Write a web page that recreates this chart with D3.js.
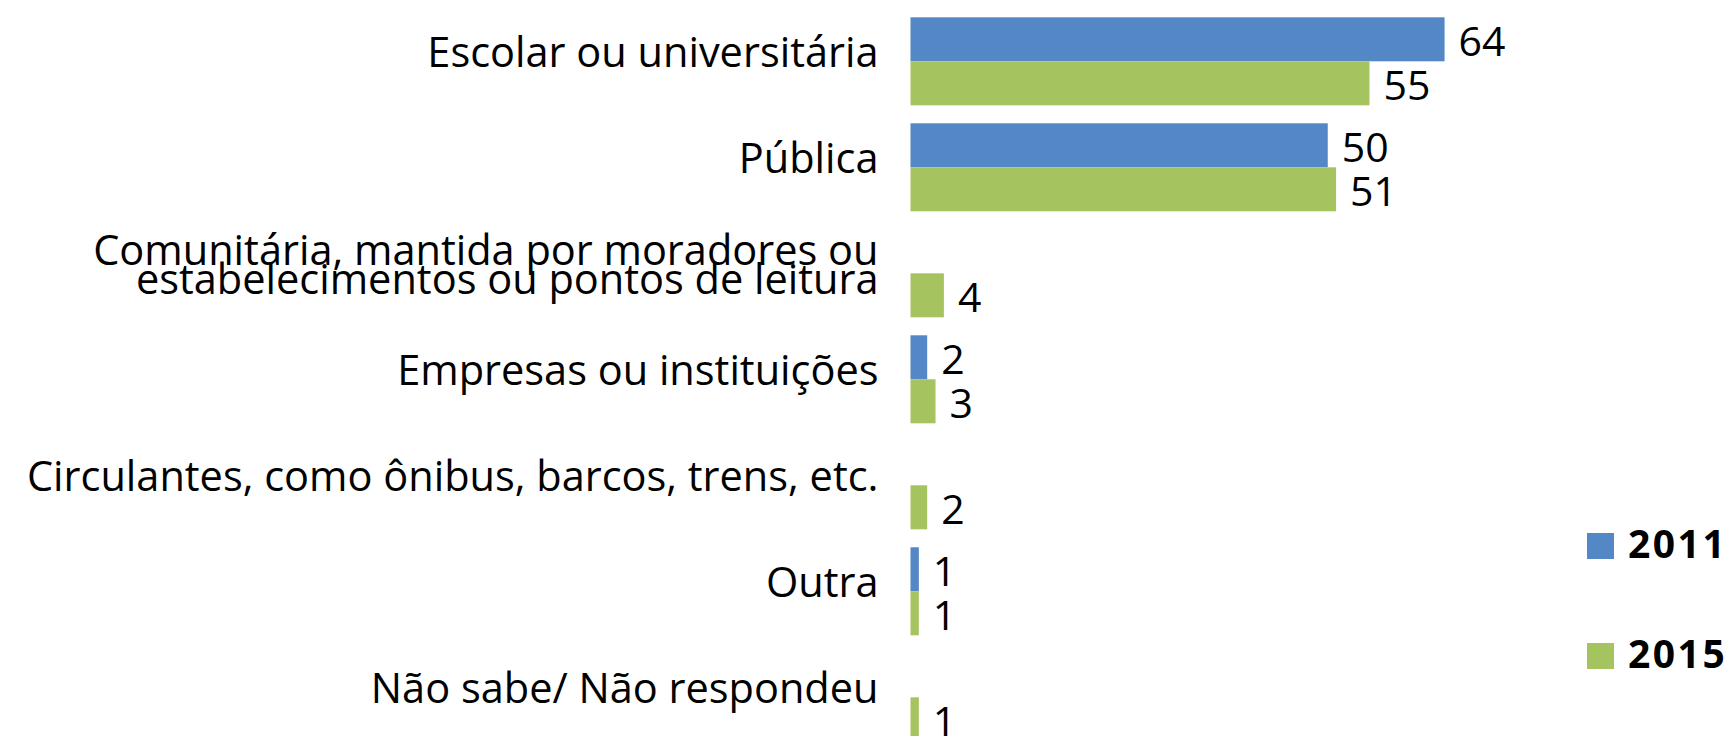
<!DOCTYPE html>
<html>
<head>
<meta charset="utf-8">
<script src="https://cdn.jsdelivr.net/npm/d3@7"></script>
<style>
    html, body { margin: 0; padding: 0; background: #fff; overflow: hidden; }
    svg { display: block; font-family: "Open Sans", Lato, sans-serif; }
</style>
</head>
<body>
<svg id="bar-chart" width="1729" height="736"></svg>
<script>
const categories = [
    "Escolar ou universitária",
    "Pública",
    "Comunitária, mantida por moradores ou\nestabelecimentos ou pontos de leitura",
    "Empresas ou instituições",
    "Circulantes, como ônibus, barcos, trens, etc.",
    "Outra",
    "Não sabe/ Não respondeu",
];
const seriesNames = ["2011", "2015"];
const values2011 = [64, 50, null, 2, null, 1, null];
const values2015 = [55, 51, 4, 3, 2, 1, 1];
const colors = ["#5387c6", "#a5c35f"];

function makeBarChart() {
    const svg = d3.select("#bar-chart");

    const xScale = d3.scaleLinear().domain([0, 100]).range([910.5, 1745]);

    const yScale = d3
        .scaleBand()
        .domain(categories)
        .range([8.3, 8.3 + 7 * 106])
        .paddingInner(18 / 106)
        .paddingOuter(9 / 106);

    const subScale = d3
        .scaleBand()
        .domain(seriesNames)
        .range([0, yScale.bandwidth()]);

    const rows = categories.map((c, i) => ({
        category: c,
        bars: [
            { series: "2011", value: values2011[i] },
            { series: "2015", value: values2015[i] },
        ].filter((b) => b.value != null),
    }));

    const color = d3.scaleOrdinal().domain(seriesNames).range(colors);

    const group = svg
        .selectAll(".row")
        .data(rows)
        .enter()
        .append("g")
        .attr("class", "row")
        .attr("transform", (d) => `translate(0, ${yScale(d.category)})`);

    // bars
    group
        .selectAll("rect")
        .data((d) => d.bars)
        .enter()
        .append("rect")
        .attr("x", xScale(0))
        .attr("y", (b) => subScale(b.series))
        .attr("width", (b) => xScale(b.value) - xScale(0))
        .attr("height", subScale.bandwidth())
        .attr("fill", (b) => color(b.series));

    // value labels
    group
        .selectAll(".value")
        .data((d) => d.bars)
        .enter()
        .append("text")
        .attr("class", "value")
        .attr("x", (b) => xScale(b.value) + 14)
        .attr("y", (b) => subScale(b.series) + subScale.bandwidth() / 2 + 17)
        .style("font-size", "41px")
        .attr("fill", "#000")
        .text((b) => b.value);

    // category labels
    const labels = svg
        .selectAll(".cat")
        .data(categories)
        .enter()
        .append("text")
        .attr("class", "cat")
        .attr("text-anchor", "end")
        .style("font-size", "41.5px")
        .attr("fill", "#000");

    labels.each(function (c) {
        const lines = c.split("\n");
        const center = yScale(c) + yScale.bandwidth() / 2;
        const first = center + 6 - ((lines.length - 1) * 29) / 2;
        d3.select(this)
            .selectAll("tspan")
            .data(lines)
            .enter()
            .append("tspan")
            .attr("x", xScale(0) - 32)
            .attr("y", (l, i) => first + i * 29)
            .text((l) => l);
    });

    // legend
    const legend = svg
        .selectAll(".legend")
        .data(seriesNames)
        .enter()
        .append("g")
        .attr("class", "legend")
        .attr("transform", (d, i) => `translate(1587, ${533 + i * 110})`);

    legend
        .append("rect")
        .attr("width", 27)
        .attr("height", 26)
        .attr("fill", (d) => color(d));

    legend
        .append("text")
        .attr("x", 41)
        .attr("y", 25)
        .style("font-size", "39px")
        .style("font-weight", "bold")
        .style("letter-spacing", "2.5px")
        .attr("fill", "#000")
        .text((d) => d);
}

makeBarChart();
</script>
</body>
</html>
